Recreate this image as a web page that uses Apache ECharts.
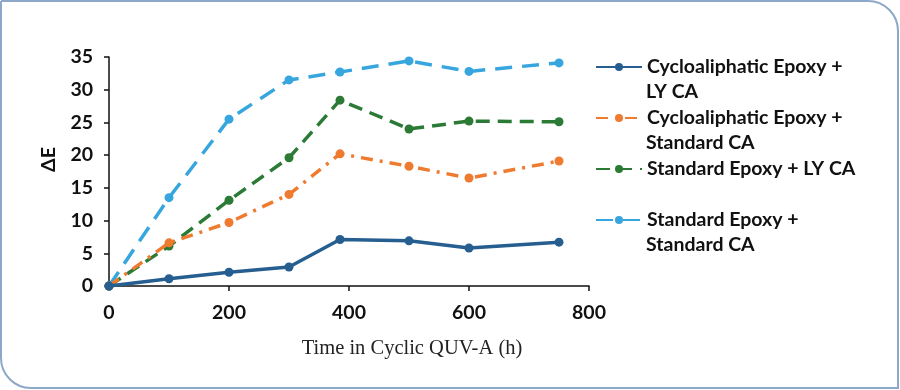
<!DOCTYPE html>
<html>
<head>
<meta charset="utf-8">
<script src="https://cdn.jsdelivr.net/npm/echarts@6/dist/echarts.min.js"></script>
<style>
html,body{margin:0;padding:0;background:#fff;}
#c{width:900px;height:390px;}
</style>
</head>
<body>
<div id="c"></div>
<script>
const hours = [0, 100, 200, 300, 385, 500, 600, 750];
const cycloLY = [0, 1.1, 2.1, 2.9, 7.1, 6.9, 5.8, 6.7];
const cycloStd = [0, 6.6, 9.7, 14.0, 20.2, 18.3, 16.5, 19.1];
const stdLY = [0, 6.1, 13.1, 19.6, 28.4, 24.0, 25.2, 25.1];
const stdStd = [0, 13.5, 25.5, 31.5, 32.7, 34.4, 32.8, 34.1];
const seriesNames = ['Cycloaliphatic Epoxy + LY CA', 'Cycloaliphatic Epoxy + Standard CA', 'Standard Epoxy + LY CA', 'Standard Epoxy + Standard CA'];
const legendLine1 = ['Cycloaliphatic Epoxy +', 'Cycloaliphatic Epoxy +', 'Standard Epoxy + LY CA', 'Standard Epoxy +'];
const legendLine2 = ['LY CA', 'Standard CA', '', 'Standard CA'];
const xTicks = [0, 200, 400, 600, 800];

const colors = ['#255E8F', '#EE7B30', '#2B7A35', '#38A6DE'];
const dashes = ['solid', [12, 7, 3, 7], [14, 8], [17, 10]];
const values = [cycloLY, cycloStd, stdLY, stdStd];
const sans = "Lato, 'Open Sans', sans-serif";

const chart = echarts.init(document.getElementById('c'));
const legendTops = [52, 103, 154, 205];
const legends = seriesNames.map((n, i) => ({
  data: [n], left: 590, top: legendTops[i], orient: 'vertical',
  itemWidth: 46, itemHeight: 10, itemGap: 0,
  formatter: () => legendLine1[i],
  textStyle: {fontFamily: sans, fontWeight: 'bold', fontSize: 19.5, color: '#111'},
  selectedMode: false
}));
const graphics = [{
  type: 'rect', shape: {x: 1, y: 1, width: 897, height: 387, r: [0, 30, 0, 30]},
  style: {fill: 'none', stroke: '#8DA7C8', lineWidth: 2}, silent: true, z: -1
}];
legendLine2.forEach((t, i) => {
  if (t) graphics.push({type: 'text', left: 646, top: legendTops[i] + 30,
    style: {text: t, fontFamily: sans, fontWeight: 'bold', fontSize: 19.5, fill: '#111'}});
});

chart.setOption({
  animation: false,
  grid: {left: 109, right: 311, top: 57, bottom: 104, containLabel: false},
  legend: legends,
  graphic: graphics,
  xAxis: {
    type: 'value', min: 0, max: 800, interval: 200,
    name: 'Time in Cyclic QUV-A (h)', nameLocation: 'middle', nameGap: 52,
    nameTextStyle: {fontFamily: "'Liberation Serif', serif", fontSize: 20.5, color: '#222', padding: [0, 0, 0, 126]},
    axisLine: {lineStyle: {color: '#111', width: 1.5}},
    axisTick: {length: 5, lineStyle: {color: '#111', width: 1.5}},
    axisLabel: {fontFamily: sans, fontWeight: 'bold', fontSize: 19.5, color: '#111', margin: 17,
      formatter: v => xTicks.includes(v) ? String(v) : ''},
    splitLine: {show: false}
  },
  yAxis: {
    type: 'value', min: 0, max: 35, interval: 5,
    name: 'ΔE', nameLocation: 'middle', nameGap: 50,
    nameTextStyle: {fontFamily: sans, fontWeight: 'bold', fontSize: 19.5, color: '#111', padding: [0, 0, 0, 24]},
    axisLine: {show: true, lineStyle: {color: '#111', width: 1.5}},
    axisTick: {show: true, length: 5, lineStyle: {color: '#111', width: 1.5}},
    axisLabel: {fontFamily: sans, fontWeight: 'bold', fontSize: 19.5, color: '#111', margin: 16},
    splitLine: {show: false}
  },
  series: values.map((v, i) => ({
    name: seriesNames[i], type: 'line',
    data: hours.map((h, k) => [h, v[k]]),
    symbol: 'circle', symbolSize: 9,
    itemStyle: {color: colors[i]},
    lineStyle: {color: colors[i], width: 3.5, type: dashes[i]},
    z: 10 - i
  }))
});
</script>
</body>
</html>
